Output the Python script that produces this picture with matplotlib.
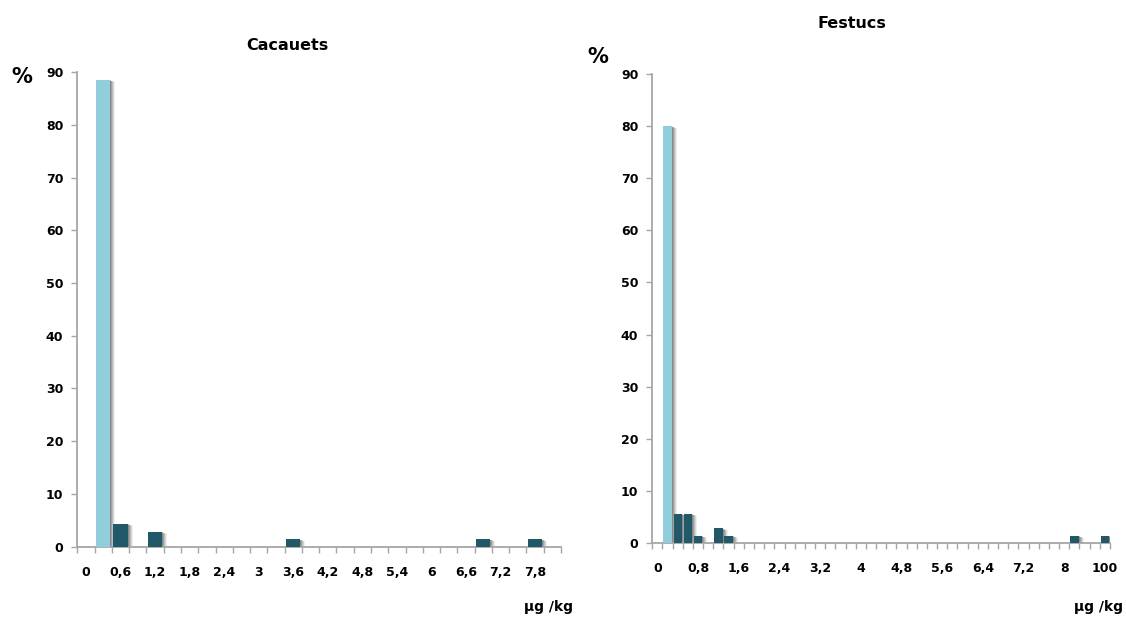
import matplotlib
matplotlib.use("Agg")
import matplotlib.pyplot as plt
from matplotlib.transforms import ScaledTranslation

plt.rcParams["font.family"] = ["DejaVu Sans"]
plt.rcParams["font.weight"] = "bold"

# Concentration classes (µg/kg) for each product
cacauets_cats = ["0", "0,3", "0,6", "0,9", "1,2", "1,5", "1,8", "2,1", "2,4", "2,7",
                 "3", "3,3", "3,6", "3,9", "4,2", "4,5", "4,8", "5,1", "5,4", "5,7",
                 "6", "6,3", "6,6", "6,9", "7,2", "7,5", "7,8", "8,1"]
festucs_cats = ["0", "0,2", "0,4", "0,6", "0,8", "1", "1,2", "1,4", "1,6", "1,8",
                "2", "2,2", "2,4", "2,6", "2,8", "3", "3,2", "3,4", "3,6", "3,8",
                "4", "4,2", "4,4", "4,6", "4,8", "5", "5,2", "5,4", "5,6", "5,8",
                "6", "6,2", "6,4", "6,6", "6,8", "7", "7,2", "7,4", "7,6", "7,8",
                "8", "8,2", "8,4", "8,6", "100"]

# Share of samples (%) falling in each class
cacauets_bars = ["0,3", "0,6", "1,2", "3,6", "6,9", "7,8"]
cacauets_pct = [88.6, 4.3, 2.8, 1.4, 1.4, 1.4]
festucs_bars = ["0,2", "0,4", "0,6", "0,8", "1,2", "1,4", "8,2", "100"]
festucs_pct = [80.0, 5.6, 5.6, 1.4, 2.8, 1.4, 1.4, 1.4]

y_ticks = [0, 10, 20, 30, 40, 50, 60, 70, 80, 90]

LIGHT = "#92CDDC"
DARK = "#215968"
AXIS = "#a6a6a6"

fig = plt.figure(figsize=(11.26, 6.19), dpi=100)
W, H = 1126, 619


def panel(rect, cats, step, bars, pct):
    x0, y_top, x1, y_bot = rect
    ax = fig.add_axes([x0 / W, 1 - y_bot / H, (x1 - x0) / W, (y_bot - y_top) / H])
    n = len(cats)
    xs = [cats.index(c) + 0.5 for c in bars]
    colors = [LIGHT] + [DARK] * (len(bars) - 1)
    # soft drop shadow to the lower right of each bar
    for k, a in [(5, 0.10), (4, 0.16), (3, 0.24), (2, 0.32), (1, 0.40)]:
        tr = ax.transData + ScaledTranslation(k / 100, -k / 250, fig.dpi_scale_trans)
        ax.bar(xs, pct, width=0.82, color="#666666", alpha=a, transform=tr,
               zorder=2, linewidth=0)
    ax.bar(xs, pct, width=0.82, color=colors, zorder=3, linewidth=0)
    ax.set_xlim(0, n)
    ax.set_ylim(0, 90)
    ax.set_yticks(y_ticks)
    ax.set_yticklabels([str(v) for v in y_ticks], fontsize=9, fontweight="bold")
    lab_idx = list(range(0, n, step))
    ax.set_xticks([i + 0.5 for i in lab_idx])
    ax.set_xticklabels([cats[i] for i in lab_idx], fontsize=9, fontweight="bold")
    ax.set_xticks(range(n + 1), minor=True)
    ax.tick_params(axis="x", which="major", length=0, pad=14)
    ax.tick_params(axis="x", which="minor", length=4, width=1, color=AXIS)
    ax.tick_params(axis="y", length=4, width=1, color=AXIS, pad=6)
    for s in ("top", "right"):
        ax.spines[s].set_visible(False)
    for s in ("left", "bottom"):
        ax.spines[s].set_color(AXIS)
        ax.spines[s].set_linewidth(1.3)
    return ax


panel((77.3, 72.4, 561, 546.5), cacauets_cats, 2, cacauets_bars, cacauets_pct)
panel((652.3, 74, 1110, 543), festucs_cats, 4, festucs_bars, festucs_pct)

fig.text(287 / W, 1 - 45 / H, "Cacauets", ha="center", va="center", fontsize=11.5, fontweight="bold")
fig.text(852 / W, 1 - 23 / H, "Festucs", ha="center", va="center", fontsize=11.5, fontweight="bold")
fig.text(22 / W, 1 - 77 / H, "%", ha="center", va="center", fontsize=15, fontweight="bold")
fig.text(598 / W, 1 - 57 / H, "%", ha="center", va="center", fontsize=15, fontweight="bold")
fig.text(549 / W, 1 - 607 / H, "μg /kg", ha="center", va="center", fontsize=10, fontweight="bold")
fig.text(1099 / W, 1 - 607 / H, "μg /kg", ha="center", va="center", fontsize=10, fontweight="bold")

fig.savefig("out.png", dpi=100, facecolor="white")
